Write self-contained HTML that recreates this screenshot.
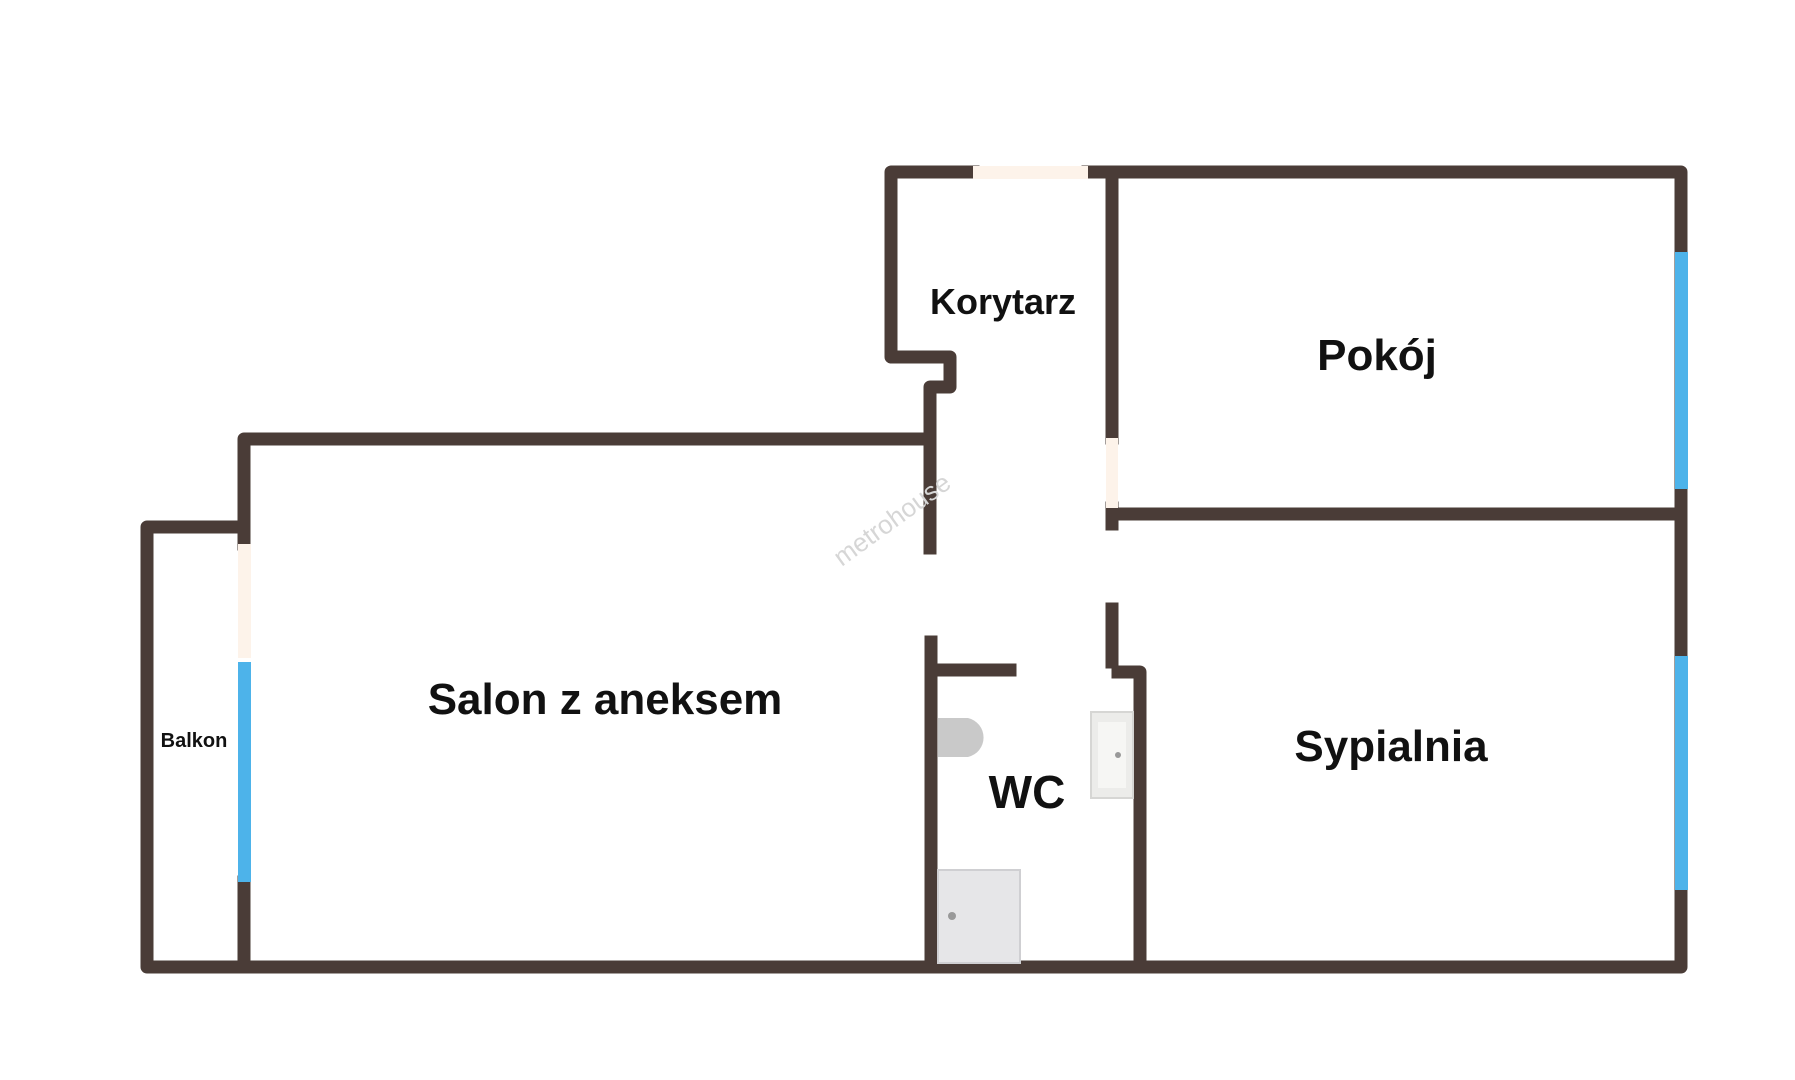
<!DOCTYPE html>
<html><head><meta charset="utf-8"><style>
html,body{margin:0;padding:0;background:#fff;}
svg{display:block}
text{font-family:"Liberation Sans",sans-serif;font-weight:bold;fill:#111;text-anchor:middle}
</style></head><body>
<svg width="1795" height="1080" viewBox="0 0 1795 1080" xmlns="http://www.w3.org/2000/svg">
<g stroke="#4a3c37" stroke-width="13" fill="none" stroke-linejoin="round" stroke-linecap="square">
<!-- top wall -->
<polyline points="973,172 891,172 891,357 950,357 950,387 930,387 930,548"/>
<polyline points="1088,172 1681,172 1681,967 147,967 147,527 244,527"/>
<polyline points="244,544 244,439 930,439"/>
<line x1="244" y1="882" x2="244" y2="967"/>
<line x1="1112" y1="178" x2="1112" y2="438"/>
<line x1="1112" y1="508" x2="1112" y2="524"/>
<line x1="1118" y1="514" x2="1681" y2="514"/>
<polyline points="1112,609 1112,662"/>
<polyline points="1118,672 1140,672 1140,967"/>
<polyline points="931,642 931,967"/>
<line x1="931" y1="670" x2="1010" y2="670"/>
</g>
<!-- door/window gaps -->
<rect x="973" y="166" width="115" height="13" fill="#fdf3ea"/>
<rect x="238" y="544" width="13" height="114" fill="#fdf3ea"/>
<rect x="1106" y="438" width="12" height="70" fill="#fdf3ea"/>
<rect x="238" y="662" width="13" height="220" fill="#4db3ea"/>
<rect x="1675" y="252" width="13" height="237" fill="#4db3ea"/>
<rect x="1675" y="656" width="13" height="234" fill="#4db3ea"/>
<!-- fixtures -->
<path d="M938,718 L968,718 A20,20 0 0 1 968,757 L938,757 Z" fill="#c9c9c9"/>
<rect x="1091" y="712" width="42" height="86" fill="#ececea" stroke="#d6d6d4" stroke-width="2"/>
<rect x="1098" y="722" width="28" height="66" fill="#f6f6f4"/>
<circle cx="1118" cy="755" r="3" fill="#999"/>
<rect x="938" y="870" width="82" height="93" fill="#e6e6e8" stroke="#cfcfd2" stroke-width="2"/>
<circle cx="952" cy="916" r="4" fill="#999"/>
<!-- labels -->
<text x="1003" y="314" font-size="36">Korytarz</text>
<text x="1377" y="370" font-size="44">Pokój</text>
<text x="605" y="714" font-size="44">Salon z aneksem</text>
<text x="1391" y="761" font-size="44">Sypialnia</text>
<text x="1027" y="808" font-size="46">WC</text>
<text x="194" y="747" font-size="20">Balkon</text>
<text x="893" y="528" font-size="26" transform="rotate(-36 893 521)" style="font-weight:normal;fill:#d6d6d6">metrohouse</text>
</svg>
</body></html>
